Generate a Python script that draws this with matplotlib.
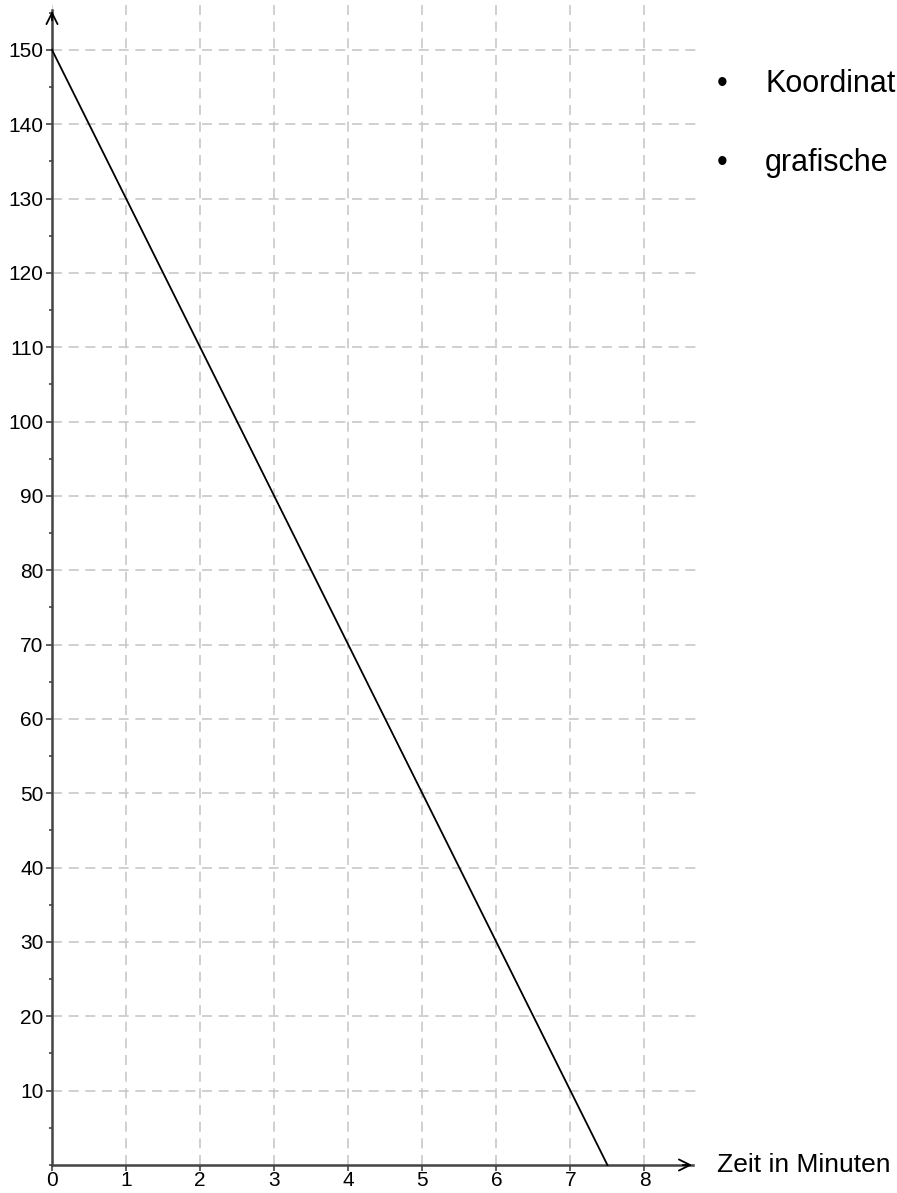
import numpy as np
import matplotlib.pyplot as plt
from matplotlib.ticker import MultipleLocator

# data
zeit = [0, 7.5]
werte = [150, 0]
x_ticks = [0, 1, 2, 3, 4, 5, 6, 7, 8]
y_ticks = [10, 20, 30, 40, 50, 60, 70, 80, 90, 100, 110, 120, 130, 140, 150]
bullets = ['Koordinat', 'grafische']

W, H = 897, 1193
plt.rcParams['font.family'] = ['Liberation Sans', 'DejaVu Sans']

fig = plt.figure(figsize=(W / 100, H / 100), dpi=100)
# pixel frame of the plot area
left_px, right_px, top_px, bottom_px = 52, 700, 3, 1165
ax = fig.add_axes([left_px / W, (H - bottom_px) / H,
                   (right_px - left_px) / W, (bottom_px - top_px) / H])
x_max, y_max = 8.75, 156.3
ax.set_xlim(0, x_max)
ax.set_ylim(0, y_max)

x_end, y_end = 8.68, 155.6
axis_col = '#444444'
for s in ['top', 'right']:
  ax.spines[s].set_visible(False)
for s in ['left', 'bottom']:
  ax.spines[s].set_color(axis_col)
  ax.spines[s].set_linewidth(1.8)
ax.spines['bottom'].set_bounds(0, x_end - 0.03)
ax.spines['left'].set_bounds(0, y_end - 0.3)

ax.set_xticks(x_ticks)
ax.set_yticks(y_ticks)
ax.yaxis.set_minor_locator(MultipleLocator(5))
ax.tick_params(axis='both', which='major', direction='out', length=4, width=1.2,
               color=axis_col, labelsize=15, pad=2)
ax.tick_params(axis='y', which='minor', direction='out', length=2.5, width=1.2,
               color=axis_col)
ax.tick_params(axis='x', which='major', pad=0.5)

ax.grid(True, which='major', color='#c8c8c8', linestyle=(0, (6, 4)), linewidth=1.2)
ax.set_axisbelow(True)

ax.plot(zeit, werte, color='black', linewidth=1.3, clip_on=False, zorder=5)

# axis arrows
ax.annotate('', xy=(x_end, 0), xytext=(x_end - 0.2, 0), xycoords='data',
            arrowprops=dict(arrowstyle='->', color='black', lw=1.3,
                            mutation_scale=20), annotation_clip=False)
ax.annotate('', xy=(0, y_end), xytext=(0, y_end - 2), xycoords='data',
            arrowprops=dict(arrowstyle='->', color='black', lw=1.3,
                            mutation_scale=20), annotation_clip=False)

fig.text(717 / W, 1 - 1165 / H, 'Zeit in Minuten', fontsize=19,
         va='center', ha='left')

for i, t in enumerate(bullets):
  yy = 1 - (84 + 79 * i) / H
  fig.text(722 / W, yy, '\u2022', fontsize=22, va='center', ha='center')
  fig.text(765 / W, yy, t, fontsize=22, va='center', ha='left')

fig.savefig('out.png', dpi=100)
